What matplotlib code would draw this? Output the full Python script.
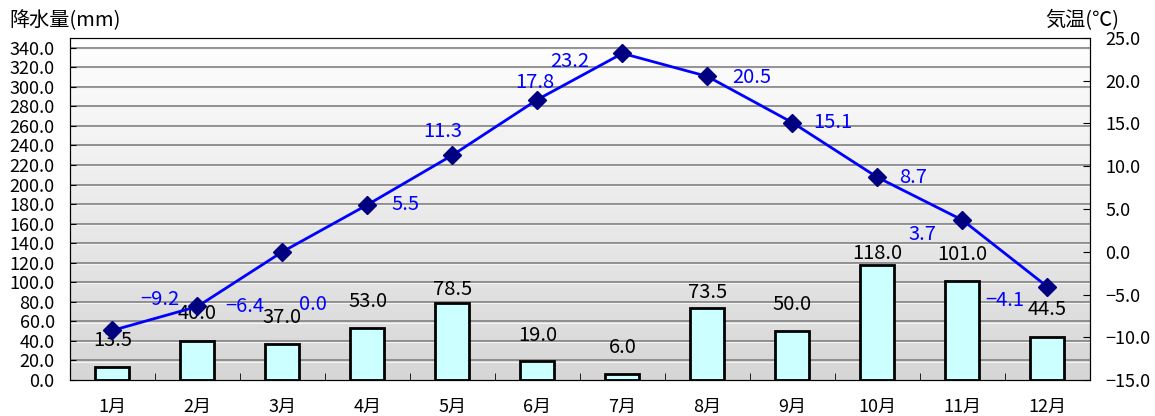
import numpy as np
import matplotlib.pyplot as plt
from matplotlib.colors import LinearSegmentedColormap

plt.rcParams['font.family'] = ['Noto Sans CJK JP', 'DejaVu Sans']

# データ
months = ['1月', '2月', '3月', '4月', '5月', '6月', '7月', '8月', '9月', '10月', '11月', '12月']
precip = [13.5, 40.0, 37.0, 53.0, 78.5, 19.0, 6.0, 73.5, 50.0, 118.0, 101.0, 44.5]
temp = [-9.2, -6.4, 0.0, 5.5, 11.3, 17.8, 23.2, 20.5, 15.1, 8.7, 3.7, -4.1]

# ラベルのずらし量(ポイント)
temp_offsets = [(34, 22), (34, 0), (22, -38), (27, 0), (-7, 17), (-2, 12), (-38, -6),
                (32, -1), (29, 0), (26, 0), (-29, -10), (-31, -10)]
bar_offsets = [19, 19.5, 19, 19, 10, 19, 19, 11.5, 19.5, 8, 19.5, 19.5]

x = np.arange(len(months))

fig = plt.figure(figsize=(11.55, 4.16), dpi=100)
ax = fig.add_axes([0.0606, 0.0865, 0.8831, 0.8222])

# 背景のグラデーション
cmap = LinearSegmentedColormap.from_list('bg', ['#ffffff', '#d6d6d6'])
grad = np.linspace(0, 1, 256).reshape(-1, 1)
ax.imshow(grad, cmap=cmap, aspect='auto', origin='upper',
          extent=[-0.5, 11.5, 0, 350], zorder=0)

ax.set_xlim(-0.5, 11.5)
ax.set_ylim(0, 350)
for v in np.arange(20, 341, 20):
    ax.axhline(v, color='#888888', lw=1.3, zorder=1)
    ax.axhline(v - 1.2, color='#f4f4f4', lw=0.8, zorder=1)

ax.bar(x, precip, width=0.4, color='#ccffff', edgecolor='black', lw=2, zorder=2)
for xi, p, dy in zip(x, precip, bar_offsets):
    ax.annotate(f'{p:.1f}', (xi, p), xytext=(0, dy), textcoords='offset points',
                ha='center', va='center', fontsize=14.5, color='black', zorder=5)

ax.set_yticks(np.arange(0, 341, 20))
ax.set_yticklabels([f'{v:.1f}' for v in np.arange(0, 341, 20)], fontsize=13)
ax.tick_params(axis='y', direction='in', length=4, pad=11)
ax.set_xticks(x)
ax.set_xticklabels(months, fontsize=13)
ax.set_xticks(np.arange(0.5, 11.5, 1), minor=True)
ax.tick_params(axis='x', which='major', length=0, pad=13)
ax.tick_params(axis='x', which='minor', direction='in', length=5)
ax.spines['top'].set_color('#555555')

ax2 = ax.twinx()
ax2.set_ylim(-15, 25)
ax2.plot(x, temp, color='#0000ff', lw=2, marker='D', markersize=9,
         markerfacecolor='#000080', markeredgecolor='#000080', zorder=4)
for xi, t, off in zip(x, temp, temp_offsets):
    ax2.annotate(f'{t:.1f}'.replace('-', '\u2212'), (xi, t), xytext=off,
                 textcoords='offset points', ha='center', va='center',
                 fontsize=14.5, color='#0000ff')
ax2.set_yticks(np.arange(-15, 26, 5))
ax2.set_yticklabels([f'{v:.1f}'.replace('-', '\u2212') for v in np.arange(-15, 26, 5)], fontsize=13)
ax2.tick_params(axis='y', direction='in', length=5, pad=11)

fig.text(0.008, 0.95, '降水量(mm)', fontsize=14.5, ha='left', va='center')
fig.text(0.905, 0.95, '気温(℃)', fontsize=14.5, ha='left', va='center')

fig.savefig('out.png', dpi=100)
